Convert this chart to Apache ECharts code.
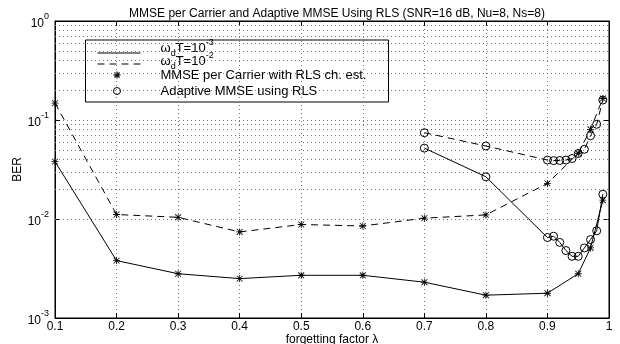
<!DOCTYPE html>
<html>
<head>
<meta charset="utf-8">
<script src="https://cdn.jsdelivr.net/npm/echarts@6/dist/echarts.min.js"></script>
<style>
  html, body { margin: 0; padding: 0; background: #fff; }
  #chart { width: 620px; height: 344px; }
</style>
</head>
<body>
<div id="chart"></div>
<script>
// forgetting factor values
var lambdaCarrier = [0.1, 0.2, 0.3, 0.4, 0.5, 0.6, 0.7, 0.8, 0.9, 0.95, 0.97, 0.99];
var lambdaAdaptive = [0.7, 0.8, 0.9, 0.91, 0.92, 0.93, 0.94, 0.95, 0.96, 0.97, 0.98, 0.99];

// MMSE per carrier with RLS channel estimation
var berCarrier3 = [0.038, 0.0038, 0.0028, 0.0025, 0.0027, 0.0027, 0.0023, 0.0017, 0.00178, 0.0028, 0.0051, 0.0155];
var berCarrier2 = [0.148, 0.0111, 0.0104, 0.0074, 0.0088, 0.0085, 0.0102, 0.0110, 0.0229, 0.0461, 0.0805, 0.165];

// Adaptive MMSE using RLS
var berAdaptive3 = [0.052, 0.0267, 0.0065, 0.0067, 0.0058, 0.0048, 0.0042, 0.0042, 0.0051, 0.0062, 0.0076, 0.0178];
var berAdaptive2 = [0.0744, 0.0546, 0.0394, 0.0389, 0.039, 0.0394, 0.0408, 0.0459, 0.0506, 0.0694, 0.0905, 0.159];

var decades = [0.001, 0.01, 0.1];
var minorSteps = [2, 3, 4, 5, 6, 7, 8, 9];

var FONT = 'Liberation Sans';
var STAR = 'path://M4.4,0H5.6V10H4.4Z M0,4.4H10V5.6H0Z M1.2,0.4L9.6,8.8L8.8,9.6L0.4,1.2Z M8.8,0.4L9.6,1.2L1.2,9.6L0.4,8.8Z';
var gridDots = { color: '#777', width: 1, type: [1, 3] };

function pairs(xs, ys) {
    return xs.map(function (x, i) { return [x, ys[i]]; });
}

// dotted minor grid lines of the log axis (2..9 of each decade)
var minorLines = [];
decades.forEach(function (d) {
    minorSteps.forEach(function (m) {
        minorLines.push({ yAxis: d * m });
    });
});

function powLabel(v) {
    var e = Math.round(Math.log10(v));
    return '{b|10}{s|' + e + '}';
}
var powRich = {
    b: { fontFamily: FONT, fontSize: 12, color: '#000', verticalAlign: 'bottom', lineHeight: 18 },
    s: { fontFamily: FONT, fontSize: 9, color: '#000', verticalAlign: 'top', lineHeight: 18 }
};

var legendRich = {
    a: { fontFamily: FONT, fontSize: 13, fill: '#000', verticalAlign: 'middle', lineHeight: 20 },
    d: { fontFamily: FONT, fontSize: 9, fill: '#000', verticalAlign: 'bottom', lineHeight: 20 },
    s: { fontFamily: FONT, fontSize: 9, fill: '#000', verticalAlign: 'top', lineHeight: 20 }
};

var chart = echarts.init(document.getElementById('chart'));

var option = {
    animation: false,
    backgroundColor: '#fff',
    title: {
        text: 'MMSE per Carrier and Adaptive MMSE Using RLS (SNR=16 dB, Nu=8, Ns=8)',
        left: 332, top: 3, textAlign: 'center',
        textStyle: { fontFamily: FONT, fontSize: 12, fontWeight: 'normal', color: '#000' }
    },
    grid: {
        left: 55, right: 11, top: 21, bottom: 26,
        containLabel: false, outerBoundsMode: 'none',
        show: true, borderColor: '#000', borderWidth: 1, backgroundColor: '#fff'
    },
    xAxis: [{
        type: 'value', min: 0.1, max: 1, interval: 0.1,
        name: 'forgetting factor λ', nameLocation: 'middle', nameGap: 16, nameMoveOverlap: false,
        nameTextStyle: { fontFamily: FONT, fontSize: 12, color: '#000' },
        axisLine: { lineStyle: { color: '#000' } },
        axisTick: { inside: true, length: 5, lineStyle: { color: '#000' } },
        axisLabel: {
            margin: 3, fontFamily: FONT, fontSize: 12, color: '#000',
            formatter: function (v) { return String(+v.toFixed(1)); }
        },
        splitLine: { show: true, lineStyle: gridDots }
    }, {
        type: 'value', min: 0.1, max: 1, interval: 0.1, position: 'top',
        axisLine: { lineStyle: { color: '#000' } },
        axisTick: { inside: true, length: 5, lineStyle: { color: '#000' } },
        axisLabel: { show: false }, splitLine: { show: false }
    }],
    yAxis: [{
        type: 'log', logBase: 10, min: 0.001, max: 1,
        name: 'BER', nameLocation: 'middle', nameGap: 31, nameRotate: 90, nameMoveOverlap: false,
        nameTextStyle: { fontFamily: FONT, fontSize: 12, color: '#000' },
        axisLine: { lineStyle: { color: '#000' } },
        axisTick: { inside: true, length: 5, lineStyle: { color: '#000' } },
        axisLabel: { margin: 6, formatter: powLabel, rich: powRich },
        splitLine: { show: true, lineStyle: gridDots }
    }, {
        type: 'log', logBase: 10, min: 0.001, max: 1, position: 'right',
        axisLine: { lineStyle: { color: '#000' } },
        axisTick: { inside: true, length: 5, lineStyle: { color: '#000' } },
        axisLabel: { show: false }, splitLine: { show: false }
    }],
    series: [{
        name: 'carrier 1e-3',
        type: 'line',
        data: pairs(lambdaCarrier, berCarrier3),
        symbol: STAR, symbolSize: 7, showAllSymbol: true,
        itemStyle: { color: '#000' },
        lineStyle: { color: '#000', width: 1 },
        markLine: {
            silent: true, symbol: 'none', label: { show: false },
            lineStyle: gridDots, data: minorLines, z: 1
        },
        z: 5
    }, {
        name: 'carrier 1e-2',
        type: 'line',
        data: pairs(lambdaCarrier, berCarrier2),
        symbol: STAR, symbolSize: 7, showAllSymbol: true,
        itemStyle: { color: '#000' },
        lineStyle: { color: '#000', width: 1, type: [7, 5] },
        z: 5
    }, {
        name: 'adaptive 1e-3',
        type: 'line',
        data: pairs(lambdaAdaptive, berAdaptive3),
        symbol: 'circle', symbolSize: 8, showAllSymbol: true,
        itemStyle: { color: 'rgba(0,0,0,0)', borderColor: '#000', borderWidth: 1 },
        lineStyle: { color: '#000', width: 1 },
        z: 4
    }, {
        name: 'adaptive 1e-2',
        type: 'line',
        data: pairs(lambdaAdaptive, berAdaptive2),
        symbol: 'circle', symbolSize: 8, showAllSymbol: true,
        itemStyle: { color: 'rgba(0,0,0,0)', borderColor: '#000', borderWidth: 1 },
        lineStyle: { color: '#000', width: 1, type: [7, 5] },
        z: 4
    }],
    graphic: [{
        type: 'group', left: 85, top: 38, z: 100,
        children: [
            { type: 'rect', shape: { x: 0, y: 0, width: 303, height: 62 },
              style: { fill: '#fff', stroke: '#000', lineWidth: 1 } },
            { type: 'line', shape: { x1: 12, y1: 13, x2: 55, y2: 13 },
              style: { stroke: '#000', lineWidth: 1 } },
            { type: 'line', shape: { x1: 12, y1: 24, x2: 55, y2: 24 },
              style: { stroke: '#000', lineWidth: 1, lineDash: [7, 5] } },
            // asterisk marker
            { type: 'line', shape: { x1: 28, y1: 35, x2: 35, y2: 35 }, style: { stroke: '#000', lineWidth: 1.2 } },
            { type: 'line', shape: { x1: 31.5, y1: 31.5, x2: 31.5, y2: 38.5 }, style: { stroke: '#000', lineWidth: 1.2 } },
            { type: 'line', shape: { x1: 29, y1: 32.5, x2: 34, y2: 37.5 }, style: { stroke: '#000', lineWidth: 1.2 } },
            { type: 'line', shape: { x1: 34, y1: 32.5, x2: 29, y2: 37.5 }, style: { stroke: '#000', lineWidth: 1.2 } },
            { type: 'circle', shape: { cx: 31.5, cy: 51, r: 3.5 },
              style: { fill: 'none', stroke: '#000', lineWidth: 1 } },
            { type: 'text', x: 75, y: 8,
              style: { text: '{a|ω}{d|d}{a|T=10}{s|-3}', verticalAlign: 'middle', rich: legendRich } },
            { type: 'text', x: 75, y: 21,
              style: { text: '{a|ω}{d|d}{a|T=10}{s|-2}', verticalAlign: 'middle', rich: legendRich } },
            { type: 'text', x: 75, y: 35,
              style: { text: 'MMSE per Carrier with RLS ch. est.', verticalAlign: 'middle',
                       fontFamily: FONT, fontSize: 13, fill: '#000' } },
            { type: 'text', x: 75, y: 51,
              style: { text: 'Adaptive MMSE using RLS', verticalAlign: 'middle',
                       fontFamily: FONT, fontSize: 13, fill: '#000' } }
        ]
    }]
};

chart.setOption(option);
</script>
</body>
</html>
